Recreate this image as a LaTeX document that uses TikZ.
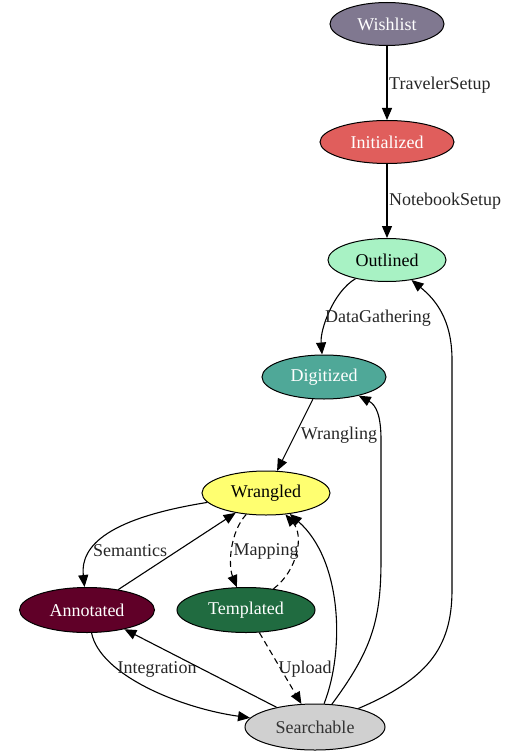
\documentclass[tikz,border=0pt]{standalone}
\usepackage{fontspec}
\setmainfont{Liberation Serif}
\usetikzlibrary{shapes.geometric,arrows.meta}
\definecolor{cwish}{HTML}{807890}
\definecolor{cinit}{HTML}{E05E5C}
\definecolor{coutl}{HTML}{A8F2C4}
\definecolor{cdigi}{HTML}{4FA898}
\definecolor{cwran}{HTML}{FFFF70}
\definecolor{canno}{HTML}{600028}
\definecolor{ctemp}{HTML}{206B40}
\definecolor{csear}{HTML}{D0D0D0}
\tikzset{
  st/.style={ellipse,draw=black,line width=1pt,inner sep=0pt,font=\fontsize{18}{21}\selectfont},
  e/.style={-{Triangle[length=12pt,width=10pt]},line width=1.1pt,black},
  dsh/.style={e,dash pattern=on 6pt off 4pt},
  lbl/.style={font=\fontsize{18}{21}\selectfont,text=black!85,inner sep=1pt}
}
\begin{document}
\begin{tikzpicture}[x=1pt,y=-1pt]
\useasboundingbox (0,0) rectangle (508,751);
\node[st,fill=cwish,text=white,minimum width=114pt,minimum height=43pt] (w) at (387,24) {Wishlist};
\node[st,fill=cinit,text=white,minimum width=134pt,minimum height=43pt] (i) at (387,142) {Initialized};
\node[st,fill=coutl,text=black,minimum width=118pt,minimum height=43pt] (o) at (387,260) {Outlined};
\node[st,fill=cdigi,text=white,minimum width=124pt,minimum height=44pt] (d) at (324,377) {Digitized};
\node[st,fill=cwran,text=black,minimum width=128pt,minimum height=44pt] (wr) at (266,493) {Wrangled};
\node[st,fill=canno,text=white,minimum width=135pt,minimum height=45pt] (a) at (87,610) {Annotated};
\node[st,fill=ctemp,text=white,minimum width=138pt,minimum height=45pt] (t) at (246,610) {Templated};
\node[st,fill=csear,text=black!80,minimum width=140pt,minimum height=46pt] (s) at (315,727) {Searchable};

\draw[e] (w) -- (i);
\node[lbl,anchor=west] (l1) at (388,85) {TravelerSetup};
\draw[e] (i) -- (o);
\node[lbl,anchor=west] (l2) at (388,201) {NotebookSetup};
\draw[e] (o) .. controls (333,292) and (320,330) .. (d);
\node[lbl] (l3) at (378,318) {DataGathering};
\draw[e] (d) -- (wr);
\node[lbl] (l4) at (339,435) {Wrangling};
\draw[e] (wr) .. controls (110,518) and (80,545) .. (a);
\node[lbl] (l5) at (130,551) {Semantics};
\draw[e] (a) -- (wr);
\draw[dsh] (wr) .. controls (230,532) and (228,565) .. (t);
\node[lbl] (l6) at (266,551) {Mapping};
\draw[dsh] (t) .. controls (298,570) and (304,535) .. (wr);
\draw[e] (a) .. controls (100,675) and (180,708) .. (s);
\node[lbl] (l7) at (157,669) {Integration};
\draw[e] (s) -- (a);
\draw[dsh] (t) -- (s);
\node[lbl] (l8) at (305,669) {Upload};
\draw[e] (s) .. controls (345,650) and (342,560) .. (wr);
\draw[e] (s) .. controls (372,650) and (381,620) .. (381,560) -- (381,440) .. controls (381,415) and (376,405) .. (d);
\draw[e] (s) .. controls (425,680) and (452,650) .. (452,590) -- (452,360) .. controls (452,320) and (436,300) .. (o);
\end{tikzpicture}
\end{document}
